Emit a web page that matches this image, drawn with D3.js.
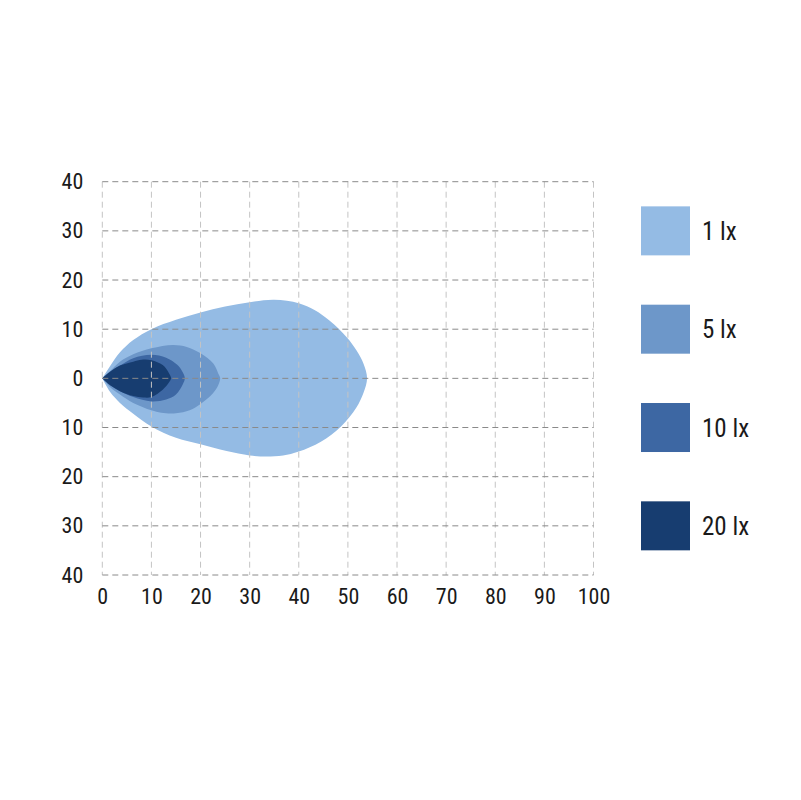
<!DOCTYPE html>
<html>
<head>
<meta charset="utf-8">
<script src="https://cdn.jsdelivr.net/npm/d3@7/dist/d3.min.js"></script>
<style>
  html, body { margin: 0; padding: 0; background: #fff; }
  svg { display: block; }
  text { font-family: "Liberation Sans Narrow", "Roboto Condensed", "DejaVu Sans Condensed", sans-serif; fill: #1a1a1a; }
</style>
</head>
<body>
<script>
// ---- data ----
const xTicks = [0, 10, 20, 30, 40, 50, 60, 70, 80, 90, 100];
const yTicks = [40, 30, 20, 10, 0, -10, -20, -30, -40];
const legendLabels = ["1 lx", "5 lx", "10 lx", "20 lx"];
const legendColors = ["#94bbe4", "#6d97c9", "#3d67a3", "#173d70"];
const legendRows = [30, 10, -10, -30];

const contour1lx = [[0,0],[1.6,2.5],[3.6,5.3],[6.3,7.8],[10,10],[15,11.9],[20,13.4],[25,14.6],[30,15.5],[35,16],[40,15.3],[43.2,13.9],[46.3,11.7],[49.8,8.3],[51.8,5.6],[53.2,2.9],[53.9,0],
  [53.2,-2.9],[51.7,-6],[48.6,-9.8],[44.5,-12.9],[40,-14.9],[36.8,-15.7],[33.4,-15.9],[30,-15.7],[25.3,-14.8],[20,-13.4],[15,-12.1],[10,-9.8],[6.3,-7.2],[3.6,-5],[1.6,-2.8],[0,0]];
const contour5lx = [[0,0],[1.6,1.5],[3.6,3.4],[6.3,4.9],[10,6.1],[14.4,6.8],[17.2,6.4],[20,5.1],[22.6,3.0],[23.6,1.0],[24,0],
  [23.4,-1.8],[22,-3.6],[20,-5.2],[17.8,-6.5],[15,-7.1],[12,-7],[10,-6.5],[6.3,-5],[3.6,-3.3],[1.6,-1.8],[0,0]];
const contour10lx = [[0,0],[1.6,1.4],[3.6,2.6],[6.3,4.1],[10,4.8],[13,4.2],[15.2,2.8],[16.4,1.2],[16.8,0],
  [16.4,-1.2],[15,-3.3],[13,-4.3],[10,-4.7],[6.3,-3.8],[3.6,-2.6],[1.6,-1.4],[0,0]];
const contour20lx = [[0,0],[1.8,1.5],[3.6,2.6],[6.3,3.4],[8,3.8],[10,3.7],[12.3,2.7],[13.6,1.0],[14,0],
  [13.6,-0.8],[12.3,-2.3],[10,-3.8],[8.3,-3.9],[6.3,-3.6],[3.6,-2.6],[1.6,-1.4],[0,0]];
const contours = [contour1lx, contour5lx, contour10lx, contour20lx];

// ---- layout ----
const W = 801, H = 800;
const svg = d3.select("body").append("svg").attr("width", W).attr("height", H);

const x = d3.scaleLinear().domain([0, 100]).range([102.3, 593.5]);
const y = d3.scaleLinear().domain([-40, 40]).range([575, 181.7]);

// contours
const line = d3.line().x(d => x(d[0])).y(d => y(d[1])).curve(d3.curveCatmullRom.alpha(0.5));
svg.append("g").selectAll("path").data(contours).join("path")
  .attr("d", d => line(d) + "Z")
  .attr("fill", (d, i) => legendColors[i]);

// grid
const g = svg.append("g");
g.selectAll("line.v").data(xTicks).join("line")
  .attr("class", "v")
  .attr("x1", d => x(d)).attr("x2", d => x(d))
  .attr("y1", y(40)).attr("y2", y(-40))
  .attr("stroke", "#c4c4c4").attr("stroke-width", 1)
  .attr("stroke-dasharray", "6,4");
g.selectAll("line.h").data(yTicks).join("line")
  .attr("class", "h")
  .attr("x1", x(0)).attr("x2", x(100))
  .attr("y1", d => y(d)).attr("y2", d => y(d))
  .attr("stroke", "#8a8a8a").attr("stroke-width", 1)
  .attr("stroke-dasharray", "6,4");

// axes labels via d3 axes (no domain / tick lines)
const xAxis = svg.append("g").attr("transform", `translate(0,${y(-40)})`)
  .call(d3.axisBottom(x).tickValues(xTicks).tickSize(0).tickPadding(22).tickFormat(d3.format("d")));
const yAxis = svg.append("g").attr("transform", `translate(${x(0)},0)`)
  .call(d3.axisLeft(y).tickValues(yTicks).tickSize(0).tickPadding(19).tickFormat(d => Math.abs(d)));
[xAxis, yAxis].forEach(a => {
  a.select(".domain").remove();
  a.selectAll("text").attr("font-size", 22).attr("fill", "#1a1a1a")
    .style("font-family", '"Liberation Sans Narrow", "Roboto Condensed", sans-serif');
});
xAxis.selectAll("text").attr("dy", "0.32em");

// legend
const lg = svg.append("g").selectAll("g").data(legendLabels).join("g")
  .attr("transform", (d, i) => `translate(641,${y(legendRows[i]) - 24.5})`);
lg.append("rect").attr("width", 49).attr("height", 49)
  .attr("fill", (d, i) => legendColors[i]);
lg.append("text").attr("x", 61).attr("y", 24.5).attr("dy", "0.36em")
  .attr("font-size", 25).text(d => d);
</script>
</body>
</html>
